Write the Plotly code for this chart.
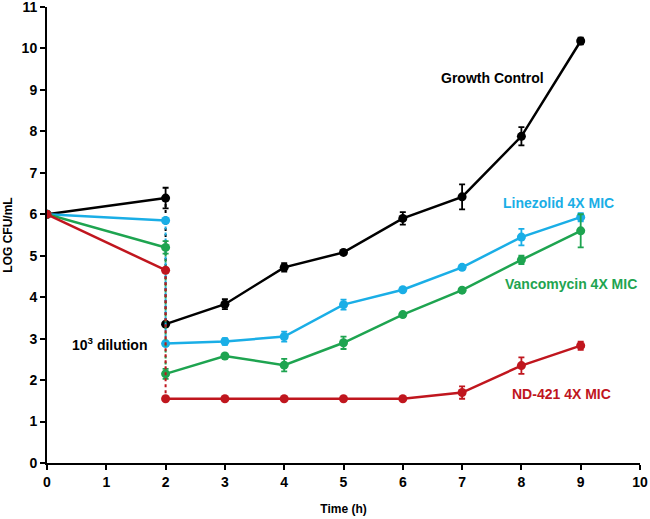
import plotly.graph_objects as go

time = [0, 2, 2, 3, 4, 5, 6, 7, 8, 9]

gc = [6.0, 6.39, 3.35, 3.83, 4.72, 5.08, 5.90, 6.42, 7.88, 10.18]
gc_err = [0.0, 0.25, 0.0, 0.12, 0.10, 0.04, 0.15, 0.30, 0.22, 0.08]

lzd = [6.0, 5.85, 2.88, 2.93, 3.05, 3.82, 4.18, 4.72, 5.45, 5.93]
lzd_err = [0.0, 0.0, 0.0, 0.08, 0.12, 0.12, 0.04, 0.04, 0.20, 0.10]

van = [6.0, 5.20, 2.15, 2.58, 2.36, 2.90, 3.58, 4.17, 4.90, 5.60]
van_err = [0.0, 0.15, 0.12, 0.04, 0.15, 0.15, 0.04, 0.04, 0.10, 0.40]

nd = [6.0, 4.65, 1.55, 1.55, 1.55, 1.55, 1.55, 1.70, 2.35, 2.83]
nd_err = [0.0, 0.0, 0.0, 0.0, 0.0, 0.0, 0.0, 0.15, 0.20, 0.10]

series = [
    ("Growth Control", gc, gc_err, "#000000"),
    ("Linezolid 4X MIC", lzd, lzd_err, "#1aaee6"),
    ("Vancomycin 4X MIC", van, van_err, "#1ea450"),
    ("ND-421 4X MIC", nd, nd_err, "#c0161e"),
]

labels = [
    ("Growth Control", 7.52, 9.29, "#000000"),
    ("Linezolid 4X MIC", 8.62, 6.27, "#1aaee6"),
    ("Vancomycin 4X MIC", 8.84, 4.32, "#1ea450"),
    ("ND-421 4X MIC", 8.68, 1.66, "#c0161e"),
    ("10<sup>3</sup> dilution", 1.06, 2.87, "#000000"),
]

FONT = "Liberation Sans, Arial"

fig = go.Figure()
for name, y, err, color in series:
    fig.add_trace(go.Scatter(x=time[:2], y=y[:2], mode="lines", line=dict(color=color, width=2.5),
                             showlegend=False, hoverinfo="skip"))
    fig.add_trace(go.Scatter(x=time[1:3], y=y[1:3], mode="lines", line=dict(color=color, width=2, dash="dot"),
                             showlegend=False, hoverinfo="skip"))
    fig.add_trace(go.Scatter(x=time[2:], y=y[2:], mode="lines", line=dict(color=color, width=2.5),
                             showlegend=False, hoverinfo="skip"))
    fig.add_trace(go.Scatter(x=time, y=y, mode="markers", name=name,
                             marker=dict(color=color, size=9),
                             error_y=dict(type="data", array=err, color=color, thickness=1.8, width=3),
                             showlegend=False))

for text, x, y, color in labels:
    fig.add_annotation(x=x, y=y, text="<b>" + text + "</b>", showarrow=False,
                       font=dict(family=FONT, size=14, color=color))

axis_common = dict(showgrid=False, zeroline=False, showline=True, linecolor="black", linewidth=2,
                   ticks="outside", ticklen=5, tickwidth=2, tickcolor="black", automargin=False,
                   ticklabeloverflow="allow",
                   tickprefix="<b>", ticksuffix="</b>",
                   tickfont=dict(family=FONT, size=14, color="black"))

fig.update_layout(
    width=650, height=519,
    margin=dict(l=47, r=10, t=7, b=56),
    plot_bgcolor="white", paper_bgcolor="white",
    font=dict(family=FONT, color="black"),
    xaxis=dict(range=[0, 10], dtick=1,
               title=dict(text="<b>Time (h)</b>", font=dict(size=12), standoff=16), **axis_common),
    yaxis=dict(range=[0, 11], dtick=1,
               title=dict(text="<b>LOG CFU/mL</b>", font=dict(size=12), standoff=6), **axis_common),
)

fig.write_html("out.html", config={"displayModeBar": False},
               post_script="document.body.style.margin='0';")
